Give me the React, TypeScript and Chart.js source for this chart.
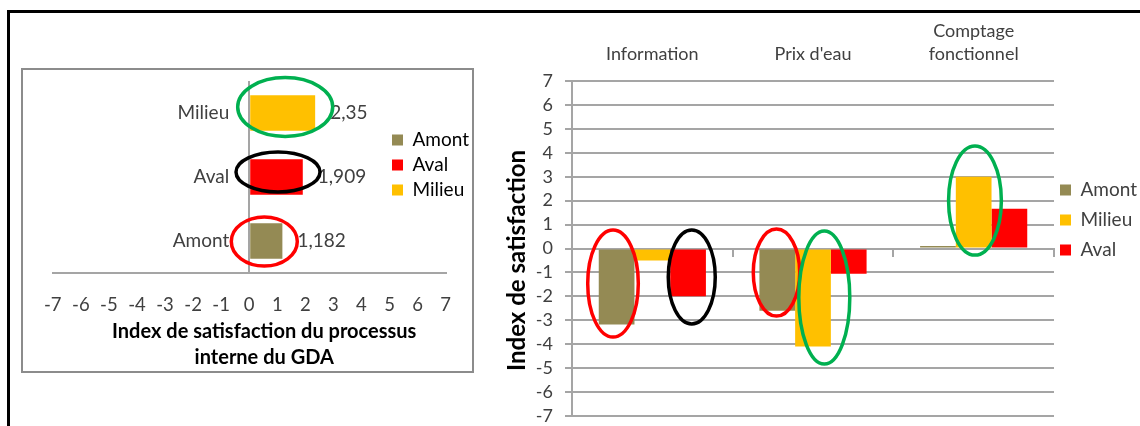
import React, { useEffect, useRef } from 'react';
import { Chart, registerables } from 'chart.js';

Chart.register(...registerables);

// ---------- data ----------
const leftCategories = ['Amont', 'Aval', 'Milieu'];
const leftValues = [1.182, 1.909, 2.35];
const leftColors = ['#948A54', '#FF0000', '#FFC000'];
const leftAxisTitle = ['Index de satisfaction du processus', 'interne du GDA'];

const rightCategories = [['Information'], ["Prix d'eau"], ['Comptage', 'fonctionnel']];
const seriesNames = ['Amont', 'Milieu', 'Aval'];
const amontValues = [-3.18, -2.6, 0.1];
const milieuValues = [-0.5, -4.1, 3.0];
const avalValues = [-2.0, -1.05, 1.66];
const seriesColors = ['#948A54', '#FFC000', '#FF0000'];
const rightAxisTitle = 'Index de satisfaction';

const valueMin = -7;
const valueMax = 7;
const valueStep = 1;

// ---------- style ----------
const FONT = 'Lato, "Open Sans", sans-serif';
const TEXT = '#404040';
const GRID = '#a5a5a5';
const GREEN = '#00B050';
const RED = '#FF0000';
const BLACK = '#000000';

// ellipse annotations, placed relative to the bar elements they circle
const leftEllipses = [
  { ds: 0, idx: 2, color: GREEN, dx: 2.5, dy: -6, rx: 47.5, ry: 29.5 },
  { ds: 0, idx: 1, color: BLACK, dx: 1.5, dy: -5, rx: 42, ry: 20 },
  { ds: 0, idx: 0, color: RED, dx: -2, dy: 0.5, rx: 33, ry: 24.5 },
];
const rightEllipses = [
  { ds: 0, idx: 0, color: RED, dx: -3.6, dy: -3.5, rx: 25.3, ry: 53.5 },
  { ds: 2, idx: 0, color: BLACK, dx: 3.7, dy: 4, rx: 23.5, ry: 47 },
  { ds: 0, idx: 1, color: RED, dx: -0.8, dy: -7.5, rx: 23.2, ry: 43.5 },
  { ds: 1, idx: 1, color: GREEN, dx: 11.3, dy: -0.5, rx: 25.5, ry: 66.5 },
  { ds: 1, idx: 2, color: GREEN, dx: 1.3, dy: -11.5, rx: 26.4, ry: 54.5 },
];

const legendMover = {
  id: 'legendMover',
  afterLayout(chart: any, _args: any, opts: any) {
    const lg = chart.legend;
    if (!lg || opts == null || opts.x == null) return;
    const w = lg.width;
    const h = lg.height;
    lg.left = opts.x;
    lg.top = opts.y;
    lg.right = opts.x + w;
    lg.bottom = opts.y + h;
  },
};

const ellipsePlugin = {
  id: 'ellipses',
  afterDatasetsDraw(chart: any, _args: any, opts: any) {
    const items = (opts && opts.items) || [];
    const horizontal = chart.options.indexAxis === 'y';
    const ctx = chart.ctx;
    ctx.save();
    items.forEach((it: any) => {
      const el = chart.getDatasetMeta(it.ds).data[it.idx];
      if (!el) return;
      let cx: number;
      let cy: number;
      if (horizontal) {
        cx = (el.x + el.base) / 2 + it.dx;
        cy = el.y + it.dy;
      } else {
        cx = el.x + it.dx;
        cy = (el.y + el.base) / 2 + it.dy;
      }
      ctx.beginPath();
      ctx.ellipse(cx, cy, it.rx, it.ry, 0, 0, Math.PI * 2);
      ctx.lineWidth = 3.5;
      ctx.strokeStyle = it.color;
      ctx.stroke();
    });
    ctx.restore();
  },
};

const leftTextPlugin = {
  id: 'leftTexts',
  afterDatasetsDraw(chart: any) {
    const ctx = chart.ctx;
    const meta = chart.getDatasetMeta(0);
    const xScale = chart.scales.x;
    const zeroX = xScale.getPixelForValue(0);
    ctx.save();
    ctx.fillStyle = TEXT;
    ctx.font = `19px ${FONT}`;
    ctx.textBaseline = 'middle';
    meta.data.forEach((bar: any, i: number) => {
      // value label after bar end
      ctx.textAlign = 'left';
      ctx.fillText(String(leftValues[i]).replace('.', ','), bar.x + 15, bar.y);
      // category label next to the zero axis
      ctx.textAlign = 'right';
      ctx.fillText(leftCategories[i], zeroX - 20, bar.y);
    });
    ctx.restore();
  },
};

export default function App() {
  const leftRef = useRef<HTMLCanvasElement | null>(null);
  const rightRef = useRef<HTMLCanvasElement | null>(null);

  useEffect(() => {
    const left = new Chart(leftRef.current as HTMLCanvasElement, {
      type: 'bar',
      data: {
        labels: leftCategories,
        datasets: [
          {
            label: 'Index',
            data: leftValues,
            backgroundColor: leftColors,
            borderWidth: 0,
            barPercentage: 0.555,
            categoryPercentage: 1,
          },
        ],
      },
      options: {
        animation: false,
        responsive: false,
        indexAxis: 'y',
        layout: { padding: { left: 24, right: 20, top: 11, bottom: 0 } },
        scales: {
          x: {
            min: valueMin,
            max: valueMax,
            ticks: {
              stepSize: valueStep,
              color: TEXT,
              font: { family: FONT, size: 18.5 },
              padding: 21,
              autoSkip: false,
              maxRotation: 0,
            },
            grid: {
              drawTicks: false,
              lineWidth: 2,
              color: (c: any) => (c.tick && c.tick.value === 0 ? GRID : 'rgba(0,0,0,0)'),
            },
            border: { display: true, color: GRID, width: 2 },
            title: {
              display: true,
              text: leftAxisTitle.map((t) => '\u2003\u2003' + t),
              color: '#000',
              font: { family: FONT, size: 20, weight: 'bold', lineHeight: 26 / 20 },
              padding: { top: 0, bottom: 0 },
            },
            afterFit: (s: any) => {
              s.height = 98;
            },
          },
          y: { display: false, reverse: true },
        },
        plugins: {
          legend: {
            position: 'chartArea',
            align: 'start',
            labels: {
              boxWidth: 11,
              boxHeight: 11,
              padding: 6,
              color: TEXT,
              font: { family: FONT, size: 19 },
              generateLabels: (chart: any) =>
                chart.data.labels.map((l: string, i: number) => ({
                  text: l,
                  fillStyle: leftColors[i],
                  strokeStyle: leftColors[i],
                  lineWidth: 0,
                  hidden: false,
                  index: i,
                  datasetIndex: 0,
                })),
            },
          },
          tooltip: { enabled: false },
          legendMover: { x: 363, y: 54.5 },
          ellipses: { items: leftEllipses },
        } as any,
      },
      plugins: [legendMover, leftTextPlugin, ellipsePlugin],
    } as any);

    const seriesData = [amontValues, milieuValues, avalValues];
    const right = new Chart(rightRef.current as HTMLCanvasElement, {
      type: 'bar',
      data: {
        labels: rightCategories,
        datasets: seriesNames.map((n, i) => ({
          label: n,
          data: seriesData[i],
          backgroundColor: seriesColors[i],
          borderWidth: 0,
          categoryPercentage: 0.667,
          barPercentage: 1,
        })),
      },
      options: {
        animation: false,
        responsive: false,
        layout: { padding: { left: 0, right: 86, top: 0, bottom: 0 } },
        scales: {
          x: {
            position: 'top',
            grid: { display: false, drawTicks: false },
            border: { display: false },
            ticks: {
              color: TEXT,
              font: { family: FONT, size: 18, lineHeight: 1.3 },
              padding: 15,
              maxRotation: 0,
              autoSkip: false,
            },
            afterFit: (s: any) => {
              s.height = 67;
            },
          },
          x2: {
            type: 'category',
            position: { y: 0 },
            offset: true,
            grid: {
              drawOnChartArea: false,
              drawTicks: true,
              tickLength: 7,
              color: GRID,
              lineWidth: 2,
              offset: true,
            },
            border: { display: true, color: GRID, width: 2 },
            ticks: { display: false },
          },
          y: {
            min: valueMin,
            max: valueMax,
            ticks: {
              stepSize: valueStep,
              color: TEXT,
              font: { family: FONT, size: 18, lineHeight: 1 },
              padding: 12,
              autoSkip: false,
            },
            grid: { color: GRID, lineWidth: 2, tickLength: 7 },
            border: { color: GRID, width: 2 },
            title: {
              display: true,
              text: rightAxisTitle + '\u2003 ',
              color: '#000',
              font: { family: FONT, size: 24, weight: 'bold' },
              padding: { top: 13, bottom: 0 },
            },
            afterFit: (s: any) => {
              s.width = 82;
            },
          },
        },
        plugins: {
          legend: {
            position: 'chartArea',
            align: 'start',
            labels: {
              boxWidth: 11,
              boxHeight: 11,
              padding: 11,
              color: TEXT,
              font: { family: FONT, size: 19 },
            },
          },
          tooltip: { enabled: false },
          legendMover: { x: 559, y: 155.5 },
          ellipses: { items: rightEllipses },
        } as any,
      },
      plugins: [legendMover, ellipsePlugin],
    } as any);

    return () => {
      left.destroy();
      right.destroy();
    };
  }, []);

  return (
    <div
      style={{
        position: 'fixed',
        left: 0,
        top: 0,
        width: 1140,
        height: 426,
        overflow: 'hidden',
        background: '#fff',
      }}
    >
      <div
        style={{
          position: 'absolute',
          left: 7,
          top: 10,
          width: 1300,
          height: 600,
          borderTop: '3px solid #000',
          borderLeft: '3px solid #000',
        }}
      />
      <div
        style={{
          position: 'absolute',
          left: 21,
          top: 68,
          width: 449,
          height: 301,
          border: '2px solid #8c8c8c',
          background: '#fff',
        }}
      >
        <canvas ref={leftRef} width={449} height={301} style={{ display: 'block' }} />
      </div>
      <canvas
        ref={rightRef}
        width={650}
        height={423}
        style={{ position: 'absolute', left: 490, top: 14, display: 'block' }}
      />
    </div>
  );
}
